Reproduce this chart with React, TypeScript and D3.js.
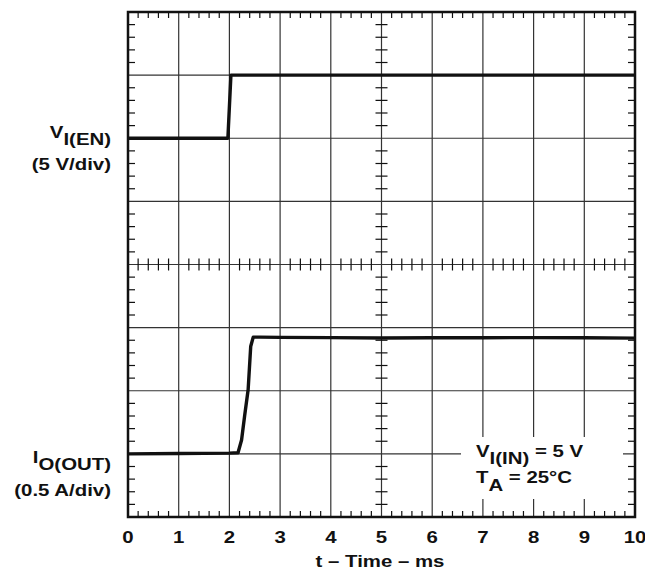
import React from "react";
import * as d3 from "d3";

// Time axis (ms)
const xTicks = [0, 1, 2, 3, 4, 5, 6, 7, 8, 9, 10];

// Top trace: enable voltage V_I(EN), volts (5 V/div)
const enTime = [0, 1.97, 2.03, 10];
const enVolt = [0, 0, 5, 5];

// Bottom trace: output current I_O(OUT), amps (0.5 A/div)
const outTime = [0, 1, 2, 2.17, 2.24, 2.3, 2.37, 2.42, 2.47, 2.6, 3, 4, 5, 6, 7, 8, 9, 10];
const outAmp = [0, 0.003, 0.006, 0.009, 0.11, 0.3, 0.51, 0.85, 0.925, 0.925, 0.923, 0.921, 0.918, 0.92, 0.92, 0.921, 0.92, 0.917];

const W = 645;
const H = 578;
const L = 128, R = 635, T = 12, B = 517;
const MID = (T + B) / 2;
const SX = 1.2;

function Txt({ x, y, anchor, children }: { x: number; y: number; anchor?: string; children: any }) {
  return (
    <text transform={`translate(${x},${y}) scale(${SX},1)`} textAnchor={anchor || "start"}>
      {children}
    </text>
  );
}

export default function App() {
  const x = d3.scaleLinear().domain([0, 10]).range([L, R]);
  const yTop = d3.scaleLinear().domain([-10, 10]).range([MID, T]);
  const yBot = d3.scaleLinear().domain([-0.5, 1.5]).range([B, MID]);
  const div = (B - T) / 8;

  const hLines = d3.range(1, 8).map((i) => T + i * div);
  const vLines = d3.range(1, 10).map((i) => x(i));
  const minorX = d3.range(0, 50).map((i) => x(i * 0.2)).filter((_, i) => i % 5 !== 0);
  const minorY = d3.range(0, 40).map((i) => T + (i * div) / 5).filter((_, i) => i % 5 !== 0);

  const lineEn = d3
    .line<number>()
    .x((d, i) => x(enTime[i]))
    .y((d) => yTop(d));
  const lineOut = d3
    .line<number>()
    .x((d, i) => x(outTime[i]))
    .y((d) => yBot(d));

  const grid = "#333";
  const font = "'Liberation Sans', Arial, Helvetica, sans-serif";

  return (
    <svg width={W} height={H} style={{ position: "absolute", left: 0, top: 0, background: "#fff" }}>
      <rect x={0} y={0} width={W} height={H} fill="#fff" />
      {/* grid */}
      {hLines.map((y, i) => (
        <line key={"h" + i} x1={L} x2={R} y1={y} y2={y} stroke={grid} strokeWidth={1.2} />
      ))}
      {vLines.map((xx, i) => (
        <line key={"v" + i} x1={xx} x2={xx} y1={T} y2={B} stroke={grid} strokeWidth={1.2} />
      ))}
      {/* minor ticks */}
      {minorX.map((xx, i) => (
        <g key={"mx" + i} stroke="#111" strokeWidth={1.2}>
          <line x1={xx} x2={xx} y1={T} y2={T + 6} />
          <line x1={xx} x2={xx} y1={B - 6} y2={B} />
          <line x1={xx} x2={xx} y1={MID - 6} y2={MID + 6} />
        </g>
      ))}
      {minorY.map((yy, i) => (
        <g key={"my" + i} stroke="#111" strokeWidth={1.2}>
          <line x1={L} x2={L + 7} y1={yy} y2={yy} />
          <line x1={R - 7} x2={R} y1={yy} y2={yy} />
          <line x1={x(5) - 6} x2={x(5) + 6} y1={yy} y2={yy} />
        </g>
      ))}
      {/* annotation box */}
      <rect x={461} y={437} width={162} height={62} fill="#fff" />
      {/* border */}
      <rect x={L} y={T} width={R - L} height={B - T} fill="none" stroke="#111" strokeWidth={2.5} />
      {/* traces */}
      <path d={lineEn(enVolt) || ""} fill="none" stroke="#111" strokeWidth={3.4} strokeLinejoin="round" />
      <path d={lineOut(outAmp) || ""} fill="none" stroke="#111" strokeWidth={3.4} strokeLinejoin="round" />
      <g fontFamily={font} fontWeight="bold" fontSize={17} fill="#111">
        {xTicks.map((t) => (
          <Txt key={"xt" + t} x={x(t)} y={543} anchor="middle">
            {t}
          </Txt>
        ))}
        <Txt x={380} y={567} anchor="middle">t – Time – ms</Txt>
        <Txt x={111} y={138} anchor="end">
          V<tspan dy={7}>I(EN)</tspan>
        </Txt>
        <Txt x={111} y={170} anchor="end">(5 V/div)</Txt>
        <Txt x={111} y={463} anchor="end">
          I<tspan dy={7}>O(OUT)</tspan>
        </Txt>
        <Txt x={111} y={496} anchor="end">(0.5 A/div)</Txt>
        <Txt x={476} y={457}>
          V<tspan dy={7}>I(IN)</tspan>
          <tspan dy={-7}> = 5 V</tspan>
        </Txt>
        <Txt x={476} y={483}>
          T<tspan dy={8}>A</tspan>
          <tspan dy={-8}> = 25°C</tspan>
        </Txt>
      </g>
    </svg>
  );
}
